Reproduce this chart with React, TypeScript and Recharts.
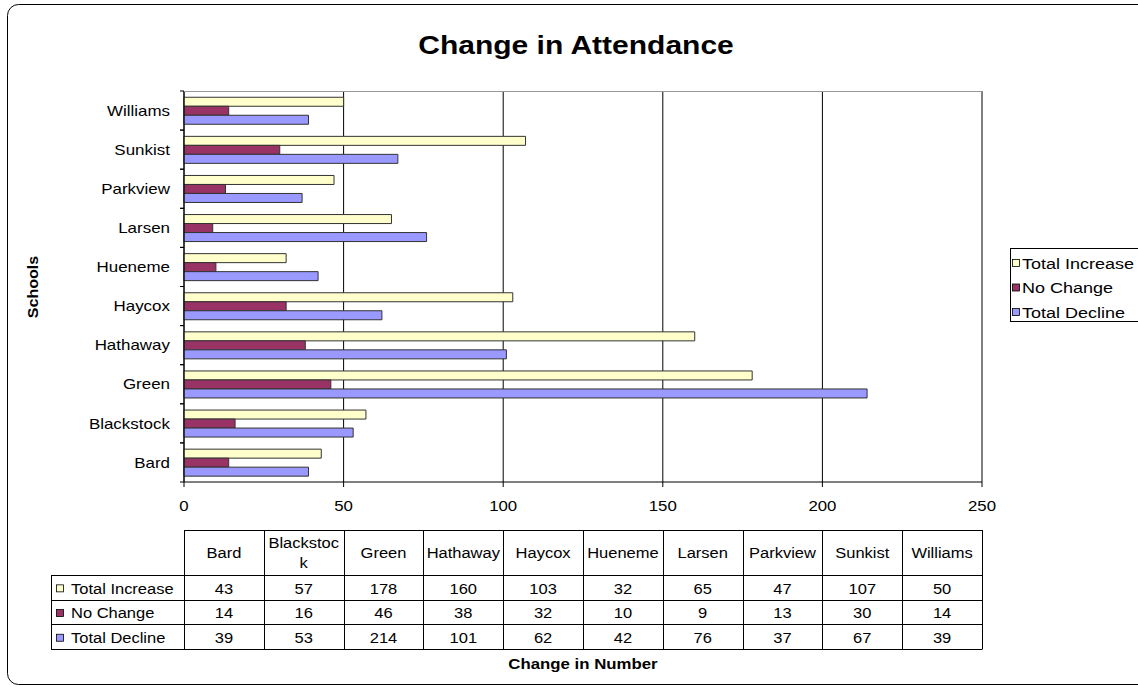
import React from "react";
import { BarChart, Bar, XAxis, YAxis, CartesianGrid } from "recharts";

const schools = ["Bard", "Blackstock", "Green", "Hathaway", "Haycox", "Hueneme", "Larsen", "Parkview", "Sunkist", "Williams"];
const totalIncrease = [43, 57, 178, 160, 103, 32, 65, 47, 107, 50];
const noChange = [14, 16, 46, 38, 32, 10, 9, 13, 30, 14];
const totalDecline = [39, 53, 214, 101, 62, 42, 76, 37, 67, 39];
const xTicks = [0, 50, 100, 150, 200, 250];

const seriesNames = ["Total Increase", "No Change", "Total Decline"];
const seriesKeys = ["inc", "none", "dec"];
const seriesColors = ["#FFFFCC", "#993366", "#9999FF"];
const seriesValues = [totalIncrease, noChange, totalDecline];

const title = "Change in Attendance";
const yTitle = "Schools";
const xTitle = "Change in Number";

const data = schools.map((s, i) => ({
  school: s,
  inc: totalIncrease[i],
  none: noChange[i],
  dec: totalDecline[i],
}));

const W = 1138;
const H = 687;
const PL = 184;
const PR = 982;
const PT = 91;
const PB = 482;
const FONT = "'Liberation Sans', Arial, sans-serif";

const stretch = (s: number, origin: string) => ({
  transformBox: "fill-box" as any,
  transformOrigin: origin,
  transform: `scaleX(${s})`,
});

const YTick = (props: any) => {
  const { x, y, payload } = props;
  const half = payload && payload.offset ? payload.offset : (PB - PT) / schools.length / 2;
  return (
    <g>
      <line x1={PL - 4} x2={PL} y1={y - half} y2={y - half} stroke="#000" />
      <line x1={PL - 4} x2={PL} y1={y + half} y2={y + half} stroke="#000" />
      <text x={x - 6} y={y} dy="0.35em" textAnchor="end" fontSize={15} fill="#000" fontFamily={FONT} style={stretch(1.13, "right center")}>
        {payload.value}
      </text>
    </g>
  );
};

const XTick = (props: any) => {
  const { x, payload } = props;
  return (
    <text x={x} y={506} dy="0.35em" textAnchor="middle" fontSize={14} fill="#000" fontFamily={FONT} style={stretch(1.2, "center")}>
      {payload.value}
    </text>
  );
};

const wrapLabel = (s: string) => {
  const max = 9;
  const out: string[] = [];
  for (let i = 0; i < s.length; i += max) out.push(s.slice(i, i + max));
  return out;
};

const Overlay = () => {
  const colW = (PR - PL) / schools.length;
  const tTop = 530;
  const hBot = 575;
  const rowH = 24.7;
  const tLeft = 51;
  const rows = seriesNames.length;
  const tBot = hBot + rows * rowH;
  return (
    <svg width={W} height={H} style={{ position: "absolute", left: 0, top: 0, pointerEvents: "none" }} fontFamily={FONT}>
      <rect x={7.5} y={4.5} width={W + 20} height={680} rx={11} ry={11} fill="none" stroke="#000" strokeWidth={1} />
      <text x={576} y={45} dy="0.35em" textAnchor="middle" fontSize={25} fontWeight="bold" fill="#000" style={stretch(1.2, "center")}>{title}</text>
      <line x1={PL} x2={PR} y1={PT + 0.5} y2={PT + 0.5} stroke="#999" strokeWidth={1} />
      <g transform="translate(33,287) rotate(-90)">
        <text x={0} y={0} dy="0.35em" textAnchor="middle" fontSize={14} fontWeight="bold" fill="#000" style={stretch(1.15, "center")}>{yTitle}</text>
      </g>
      {/* legend */}
      <rect x={1010.5} y={248.5} width={140} height={73} fill="#fff" stroke="#000" strokeWidth={1} />
      {seriesNames.map((n, i) => (
        <g key={n}>
          <rect x={1012.5} y={259.5 + i * 24.5} width={7} height={7} fill={seriesColors[i]} stroke="#000" strokeWidth={0.8} />
          <text x={1022} y={263.5 + i * 24.5} dy="0.35em" fontSize={15} fill="#000" style={stretch(1.2, "left center")}>{n}</text>
        </g>
      ))}
      {/* table */}
      <g stroke="#000" strokeWidth={1} fill="none">
        <line x1={PL} x2={PR} y1={tTop + 0.5} y2={tTop + 0.5} />
        {Array.from({ length: rows + 1 }).map((_, r) => (
          <line key={"h" + r} x1={tLeft} x2={PR} y1={Math.round(hBot + r * rowH) + 0.5} y2={Math.round(hBot + r * rowH) + 0.5} />
        ))}
        <line x1={tLeft + 0.5} x2={tLeft + 0.5} y1={hBot} y2={Math.round(tBot) + 0.5} />
        {Array.from({ length: schools.length + 1 }).map((_, c) => (
          <line key={"v" + c} x1={Math.round(PL + c * colW) + 0.5} x2={Math.round(PL + c * colW) + 0.5} y1={tTop} y2={Math.round(tBot) + 0.5} />
        ))}
      </g>
      {schools.map((s, c) => {
        const lines = wrapLabel(s);
        const cx = PL + c * colW + colW / 2;
        const cy = 553;
        return (
          <text key={s} x={cx} textAnchor="middle" fontSize={15} fill="#000" style={stretch(1.1, "center")}>
            {lines.map((l, k) => (
              <tspan key={k} x={cx} y={cy + (k - (lines.length - 1) / 2) * 20} dy="0.35em">{l}</tspan>
            ))}
          </text>
        );
      })}
      {seriesNames.map((n, r) => {
        const cy = hBot + r * rowH + rowH / 2 + 1;
        return (
          <g key={n}>
            <rect x={56.5} y={cy - 3.5} width={7} height={7} fill={seriesColors[r]} stroke="#000" strokeWidth={0.8} />
            <text x={71} y={cy} dy="0.35em" fontSize={15} fill="#000" style={stretch(1.1, "left center")}>{n}</text>
            {seriesValues[r].map((v, c) => (
              <text key={c} x={PL + c * colW + colW / 2} y={cy} dy="0.35em" textAnchor="middle" fontSize={15} fill="#000" style={stretch(1.1, "center")}>{v}</text>
            ))}
          </g>
        );
      })}
      <text x={583} y={664} dy="0.35em" textAnchor="middle" fontSize={14} fontWeight="bold" fill="#000" style={stretch(1.2, "center")}>{xTitle}</text>
    </svg>
  );
};

export default function App() {
  return (
    <div style={{ position: "absolute", left: 0, top: 0, width: W, height: H, background: "#fff", overflow: "hidden" }}>
      <BarChart
        width={W}
        height={H}
        data={data}
        layout="vertical"
        margin={{ top: PT, right: W - PR, bottom: H - PB - 30, left: PL - 100 }}
        barCategoryGap="16%"
        barGap={0}
      >
        <CartesianGrid horizontal={false} vertical={true} stroke="#000" strokeWidth={1} />
        <XAxis
          type="number"
          domain={[0, 250]}
          ticks={xTicks}
          height={30}
          tickSize={5}
          axisLine={{ stroke: "#000" }}
          tickLine={{ stroke: "#000" }}
          tick={<XTick />}
          interval={0}
        />
        <YAxis
          type="category"
          dataKey="school"
          reversed
          width={100}
          axisLine={{ stroke: "#000" }}
          tickLine={false}
          tick={<YTick />}
          interval={0}
        />
        {seriesKeys.map((k, i) => (
          <Bar key={k} dataKey={k} name={seriesNames[i]} fill={seriesColors[i]} stroke="#333" strokeWidth={1} isAnimationActive={false} />
        ))}
      </BarChart>
      <Overlay />
    </div>
  );
}
